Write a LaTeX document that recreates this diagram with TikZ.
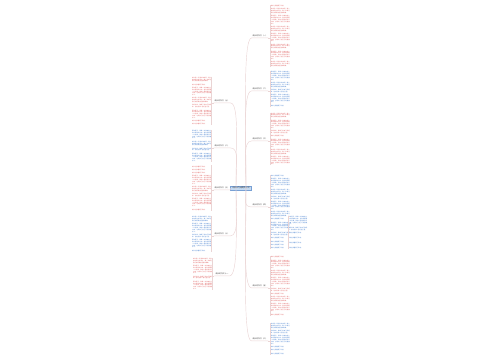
\documentclass[tikz,border=0pt]{standalone}
\usepackage{fontspec}
\newfontfamily\cjk{Noto Sans CJK SC}
\XeTeXlinebreaklocale "zh"
\XeTeXlinebreakskip=0pt plus 0.2pt
\usetikzlibrary{positioning,calc}

\definecolor{txtred}{RGB}{222,96,96}
\definecolor{txtblue}{RGB}{62,122,204}
\definecolor{linkc}{RGB}{234,212,212}
\definecolor{rootfill}{RGB}{196,218,242}
\definecolor{rootline}{RGB}{120,160,212}

% paragraphs of the leaves
\newcommand\pa{成长是一段漫长的旅程，路上有欢笑也有泪水，每一步都让我们变得更加坚强和勇敢。}
\newcommand\pc{那年夏天，我第一次独自坐上去外婆家的火车，窗外的田野一片金黄，我的心里既紧张又兴奋，也明白了自己已经慢慢长大。}
\newcommand\pb{成长让我懂得了珍惜。}
\newcommand\pd{妈妈常说，跌倒了就自己爬起来，这句话我一直记在心里。}
\newcommand\np{\par\vspace{0.8pt}}

\begin{document}
\begin{tikzpicture}[x=0.02cm,y=-0.02cm,
    root/.style={rectangle,draw=rootline,line width=0.2pt,fill=rootfill,font=\cjk\fontsize{1.1}{1.3}\selectfont,text=black!80,inner xsep=1pt,inner ysep=0.6pt},
    topic/.style={font=\cjk\fontsize{1.05}{1.3}\selectfont,text=black!80,inner sep=0.4pt},
    leaf/.style={text width=0.38cm,align=justify,inner sep=0pt,font=\cjk\fontsize{0.8}{1.05}\selectfont},
    redleaf/.style={leaf,text=txtred},
    blueleaf/.style={leaf,text=txtblue},
    link/.style={draw=linkc,line width=0.25pt},
    node distance=0.04cm
]
    \useasboundingbox (0,0) rectangle (500,360);

    % root
    \node[root] (root) at (241,188) {以成长为话题的作文};
    \coordinate (rs) at (246,188);
    \coordinate (ls) at (236,188);

    % right topics
    \node[topic] (r1) at (260,36) {成长的作文（一）};
    \node[topic] (r2) at (260,89) {成长的作文（二）};
    \node[topic] (r3) at (260,139) {成长的作文（三）};
    \node[topic] (r4) at (260,205) {成长的作文（四）};
    \node[topic] (r5) at (260,286) {成长的作文（五）};
    \node[topic] (r6) at (260,339) {成长的作文（六）};

    % left topics
    \node[topic] (l1) at (222,101) {成长的作文（七）};
    \node[topic] (l2) at (222,146) {成长的作文（八）};
    \node[topic] (l3) at (222,188) {成长的作文（九）};
    \node[topic] (l4) at (222,234) {成长的作文（十）};
    \node[topic] (l5) at (222,274) {成长的作文十一};

    % leaves
    \node[redleaf,right=of r1] (b1) {\pb\np\pa\np\pc\np\pa\np\pc\np\pa\np\pc\np\pa};
    \node[blueleaf,right=of r2] (b2) {\pc\np\pa\np\pd\np\pc\np\pb};
    \node[redleaf,right=of r3] (b3) {\pa\np\pc\np\pd\np\pb\np\pc\np\pa\np\pc};
    \node[blueleaf,right=of r4,yshift=-0.14cm] (b4) {\pb\np\pc\np\pa\np\pd\np\pc\np\pa\np\pb\np\pc\np\pd\np\pb\np\pb\np\pb\np\pb};
    \node[blueleaf,anchor=north west] (s4) at (288,216) {\pc\np\pd};
    \node[blueleaf,below=0.03cm of s4,font=\cjk\fontsize{0.8}{2}\selectfont] (t4) {\pb\np\pb\np\pb\np\pb};
    \node[redleaf,right=of r5] (b5) {\pb\np\pc\np\pa\np\pc\np\pd\np\pb\np\pa\np\pc\np\pb};
    \node[blueleaf,right=of r6] (b6) {\pa\np\pd\np\pc\np\pb\np\pb\np\pb};
    \node[redleaf,left=of l1] (a1) {\pa\np\pb\np\pc\np\pa\np\pd\np\pc\np\pb\np\pb};
    \node[blueleaf,left=of l2] (a2) {\pc\np\pa\np\pd\np\pc};
    \node[redleaf,left=of l3] (a3) {\pb\np\pb\np\pb\np\pc\np\pa\np\pd\np\pc\np\pb};
    \node[blueleaf,left=of l4] (a4) {\pa\np\pc\np\pd\np\pc\np\pb};
    \node[redleaf,left=of l5] (a5) {\pa\np\pc\np\pd\np\pc};

    % links
    \foreach \t/\d in {r1/-60,r2/-45,r3/-25,r4/10,r5/40,r6/60}
        \draw[link] (rs) .. controls +(0,\d) and +(-9,0) .. (\t.south west) -- (\t.south east);
    \foreach \t/\d in {l1/-40,l2/-25,l4/20,l5/35}
        \draw[link] (ls) .. controls +(0,\d) and +(9,0) .. (\t.south east) -- (\t.south west);
    \draw[link] (root.west) -- (l3.south east) -- (l3.south west);

    \foreach \t/\b in {r1/b1,r2/b2,r3/b3,r4/b4,r5/b5,r6/b6}
        \draw[link] (\t.south east) -- (\b.west |- \t.south)
            (\b.north west) -- (\b.south west);
    \foreach \t/\b in {l1/a1,l2/a2,l3/a3,l4/a4,l5/a5}
        \draw[link] (\t.south west) -- (\b.east |- \t.south)
            (\b.north east) -- (\b.south east);
    \draw[link] (b4.east |- s4.north) -- (s4.north west) -- (t4.south west);
\end{tikzpicture}
\end{document}
